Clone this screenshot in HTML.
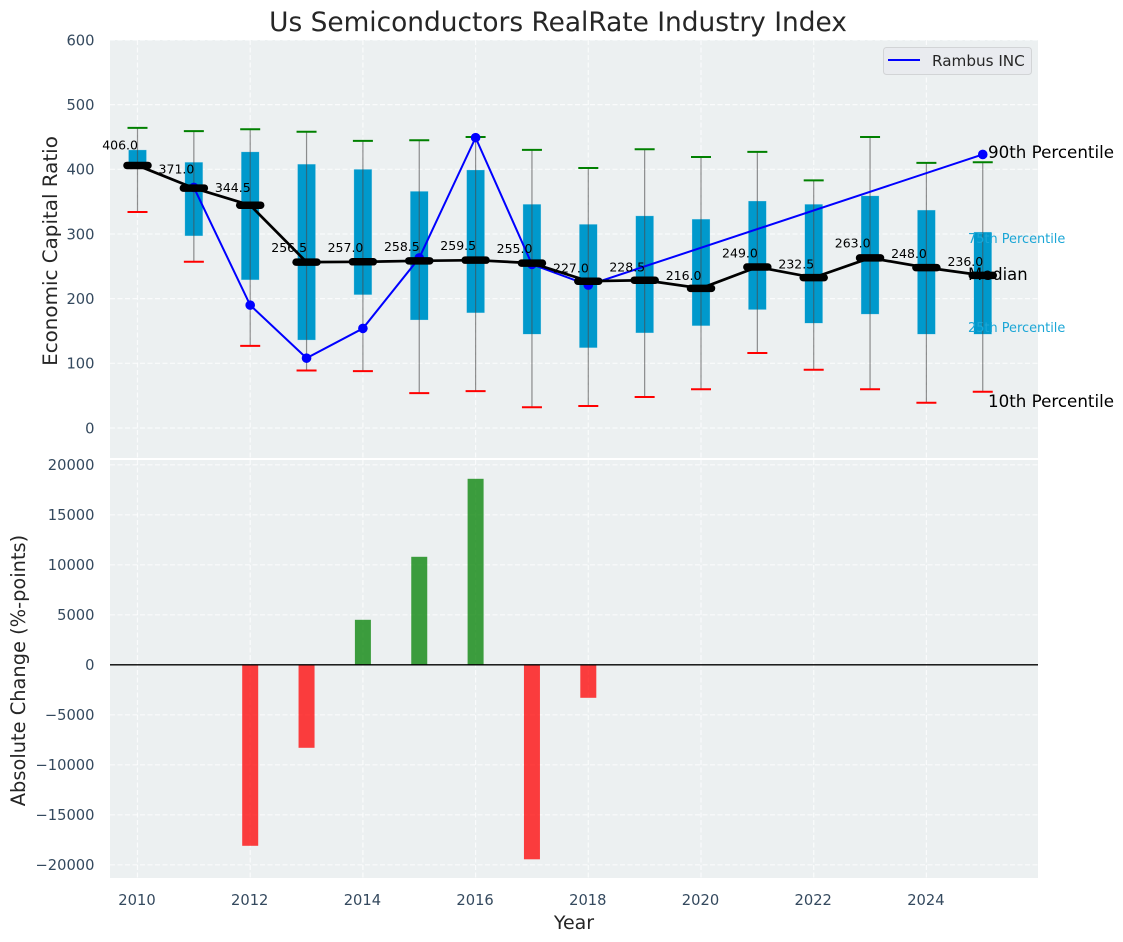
<!DOCTYPE html>
<html lang="en">
<head>
<meta charset="utf-8">
<title>Us Semiconductors RealRate Industry Index</title>
<style>
html,body{margin:0;padding:0;background:#fff;width:1123px;height:942px;overflow:hidden}
svg{display:block}
text{font-family:"DejaVu Sans","Liberation Sans",sans-serif}
</style>
</head>
<body>
<svg id="chart" xmlns="http://www.w3.org/2000/svg" width="1123" height="942" viewBox="0 0 1123 942">
  <rect x="110" y="40" width="928" height="418" fill="#ecf0f1"/>
  <rect x="110" y="460" width="928" height="418" fill="#ecf0f1"/>
  <g id="grid"></g>
  <g id="boxes"></g>
  <g id="rambus"></g>
  <g id="median"></g>
  <g id="labels"></g>
  <g id="bars"></g>
  <g id="ticks"></g>
  <text x="558" y="31" text-anchor="middle" font-size="26.4" fill="#262626">Us Semiconductors RealRate Industry Index</text>
  <text transform="translate(57,251) rotate(-90)" text-anchor="middle" font-size="19.9" fill="#262626">Economic Capital Ratio</text>
  <text transform="translate(25,670.5) rotate(-90)" text-anchor="middle" font-size="19.4" fill="#262626">Absolute Change (%-points)</text>
  <text x="574" y="929" text-anchor="middle" font-size="19" fill="#262626">Year</text>
  <g>
    <rect x="883.5" y="47.5" width="148" height="27" rx="3" fill="#e9ebef" stroke="#d2d4d6" stroke-width="1"/>
    <line x1="888" y1="60" x2="920" y2="60" stroke="#0000ff" stroke-width="2"/>
    <text x="932" y="66" font-size="15.2" fill="#262626">Rambus INC</text>
  </g>
  <g>
    <text x="988" y="158" font-size="16.7" fill="#000">90th Percentile</text>
    <text x="968" y="243" font-size="12.9" fill="#1ba6d6">75th Percentile</text>
    <text x="968" y="280" font-size="16.4" fill="#000">Median</text>
    <text x="968" y="332" font-size="12.9" fill="#1ba6d6">25th Percentile</text>
    <text x="988" y="407" font-size="16.7" fill="#000">10th Percentile</text>
  </g>
</svg>
<script>
const years = [2010,2011,2012,2013,2014,2015,2016,2017,2018,2019,2020,2021,2022,2023,2024,2025];
const p90 = [464,459,462,458,444,445,450,430,402,431,419,427,383,450,410,411];
const p75 = [430,411,427,408,400,366,399,346,315,328,323,351,346,359,337,303];
const medians = [406,371,344.5,256.5,257,258.5,259.5,255,227,228.5,216,249,232.5,263,248,236];
const p25 = [408,297,229,136,206,167,178,145,124,147,158,183,162,176,145,145];
const p10 = [334,257,127,89,88,54,57,32,34,48,60,116,90,60,39,56];
const rambus = [null,372,190,108,154,263,449,253,221,null,null,null,null,null,null,423];
const changeValues = [null,null,-18100,-8300,4500,10800,18600,-19450,-3300,null,null,null,null,null,null,null];
const upperTicks = [0,100,200,300,400,500,600];
const lowerTicks = [-20000,-15000,-10000,-5000,0,5000,10000,15000,20000];
const xTicks = [2010,2012,2014,2016,2018,2020,2022,2024];

const NS = 'http://www.w3.org/2000/svg';
const xAxis = v => 137.5 + (v - 2010) * 56.35;
const yUpper = v => 428 - v * 0.6467;
const yLower = v => 664.8 - v * 0.01;
const make = (parent, tag, geometry, text) => {
  const el = document.createElementNS(NS, tag);
  for (const k in geometry) el.setAttribute(k, geometry[k]);
  if (text !== undefined) el.textContent = text;
  parent.appendChild(el);
  return el;
};
const gridG = document.getElementById('grid');
const boxG = document.getElementById('boxes');
const ramG = document.getElementById('rambus');
const medG = document.getElementById('median');
const labG = document.getElementById('labels');
const barG = document.getElementById('bars');
const tickG = document.getElementById('ticks');
const gridStyle = {stroke:'#ffffff','stroke-width':1.2,'stroke-dasharray':'5 2.5','stroke-opacity':0.75};

upperTicks.forEach(t => {
  const l = make(gridG, 'line', {x1:110,x2:1038,y1:yUpper(t),y2:yUpper(t),...gridStyle});
  
  
  const s = make(tickG, 'text', {x:94.5,y:yUpper(t)+5.3,'text-anchor':'end','font-size':14.7,fill:'#34495e'}, String(t));
  
  
});
lowerTicks.forEach(t => {
  const l = make(gridG, 'line', {x1:110,x2:1038,y1:yLower(t),y2:yLower(t),...gridStyle});
  
  
  const s = make(tickG, 'text', {x:94.5,y:yLower(t)+5.3,'text-anchor':'end','font-size':14.7,fill:'#34495e'}, String(t).replace('-', '\u2212'));
  
  
});
xTicks.forEach(t => {
  const a = make(gridG, 'line', {x1:xAxis(t),x2:xAxis(t),y1:40,y2:458,...gridStyle});
  
  
  const b = make(gridG, 'line', {x1:xAxis(t),x2:xAxis(t),y1:460,y2:878,...gridStyle});
  
  
  const s = make(tickG, 'text', {x:xAxis(t)-0.5,y:905,'text-anchor':'middle','font-size':14.7,fill:'#34495e'}, String(t));
  
  
});

years.forEach((yr, i) => {
  const x = xAxis(yr);
  const box = make(boxG, 'rect', {x:x-9,y:yUpper(p75[i]),width:18,height:yUpper(p25[i])-yUpper(p75[i]),fill:'#0099cc',stroke:'#cfe9f2','stroke-width':0.5,'stroke-opacity':0.6});
  
  
  const wh = make(boxG, 'line', {x1:x,x2:x,y1:yUpper(p90[i]),y2:yUpper(p10[i]),stroke:'#4a4a4a','stroke-width':1.2,'stroke-opacity':0.6});
  
  
  const capHi = make(boxG, 'line', {x1:x-10,x2:x+10,y1:yUpper(p90[i]),y2:yUpper(p90[i]),stroke:'#008000','stroke-width':2});
  
  
  const capLo = make(boxG, 'line', {x1:x-10,x2:x+10,y1:yUpper(p10[i]),y2:yUpper(p10[i]),stroke:'#ff0000','stroke-width':2});
  
  
});

const rambusPts = years.map((yr, i) => [yr, rambus[i]]).filter(p => p[1] !== null);
const ramLine = make(ramG, 'polyline', {points:rambusPts.map(p => xAxis(p[0]) + ',' + yUpper(p[1])).join(' '),fill:'none',stroke:'#0000ff','stroke-width':2});


rambusPts.forEach(p => {
  const c = make(ramG, 'circle', {cx:xAxis(p[0]),cy:yUpper(p[1]),r:4.8,fill:'#0000ff'});
  
  
});

const medLine = make(medG, 'polyline', {points:years.map((yr, i) => xAxis(yr) + ',' + yUpper(medians[i])).join(' '),fill:'none',stroke:'#000','stroke-width':2.7});


years.forEach((yr, i) => {
  const m = make(medG, 'line', {x1:xAxis(yr)-10.5,x2:xAxis(yr)+10.5,y1:yUpper(medians[i]),y2:yUpper(medians[i]),stroke:'#000','stroke-width':7.5,'stroke-linecap':'round'});
  
  
  const t = make(labG, 'text', {x:xAxis(yr)+0.5,y:yUpper(medians[i]*1.06),'text-anchor':'end','font-size':12.5,fill:'#000'}, medians[i].toFixed(1));
  
  
});

years.forEach((yr, i) => {
  const v = changeValues[i];
  if (v === null) return;
  const top = Math.min(yLower(0), yLower(v));
  const b = make(barG, 'rect', {x:xAxis(yr)-8,y:top,width:16,height:Math.abs(yLower(v)-yLower(0)),fill:v >= 0 ? '#008000' : '#ff0000','fill-opacity':0.75});
  
  
});
const zero = make(barG, 'line', {x1:110,x2:1038,y1:yLower(0),y2:yLower(0),stroke:'#000','stroke-width':1.3});


</script>
</body>
</html>
